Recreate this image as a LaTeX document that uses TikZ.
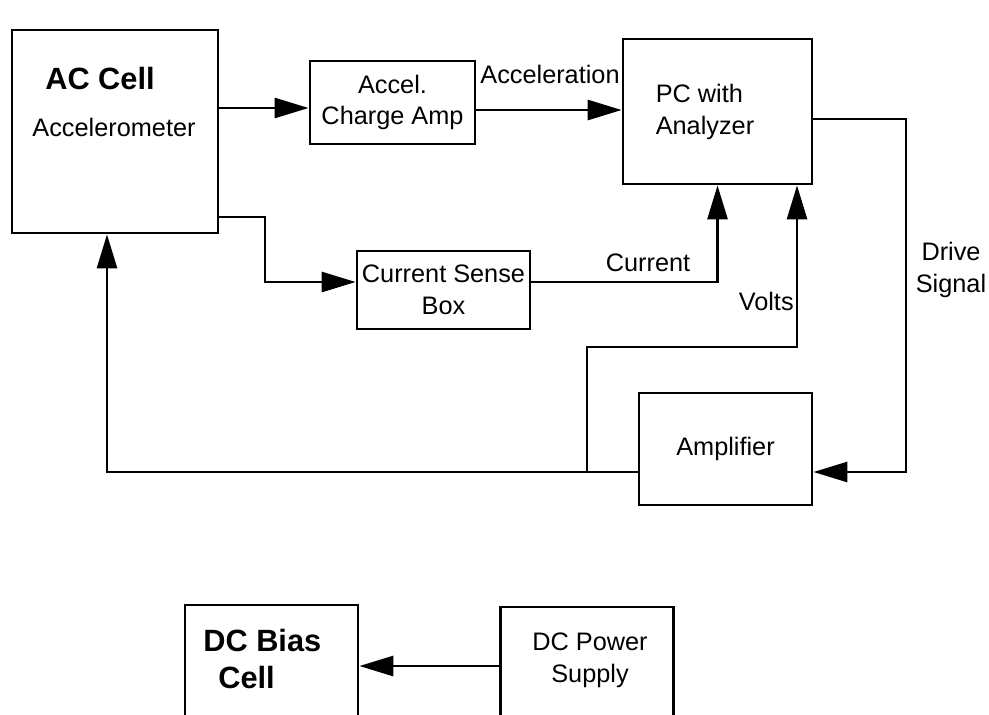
\documentclass[tikz,border=0pt]{standalone}
\usepackage{fontspec}
\setmainfont{Liberation Sans}
\usepackage{tikz}
\usetikzlibrary{arrows.meta}

\begin{document}
\begin{tikzpicture}[
  x = 0.02cm, y = -0.02cm,
  box/.style  = {rectangle, draw, line width=1.6pt, inner sep=0pt,
                 font=\fontsize{14.4}{18}\selectfont, align=center},
  txt/.style  = {inner sep=0pt, font=\fontsize{14.4}{18}\selectfont},
  head/.style = {inner sep=0pt, font=\fontsize{17.5}{21}\selectfont\bfseries},
  arr/.style  = {-{Triangle[length=0.68cm, width=0.40cm]}, line width=1.6pt},
]
  \useasboundingbox (0,0) rectangle (989,714);
  \clip (0,0) rectangle (989,714);

  % blocks
  \node[box, minimum width=4.12cm, minimum height=4.06cm] (ac)    at (115,131.5) {};
  \node[box, minimum width=3.30cm, minimum height=1.66cm] (accel) at (392.5,102.5)
    {Accel.\\Charge Amp};
  \node[box, minimum width=3.78cm, minimum height=2.90cm] (pc)    at (717.5,111.5) {};
  \node[box, minimum width=3.46cm, minimum height=1.56cm] (csb)   at (443.5,290)
    {Current Sense\\Box};
  \node[box, minimum width=3.46cm, minimum height=2.24cm] (amp)   at (725.5,449)
    {Amplifier};
  \node[box, minimum width=3.46cm, minimum height=2.70cm] (dcb)   at (271.5,672.5) {};
  \node[box, minimum width=3.46cm, minimum height=2.66cm] (dcp)   at (587,673.5) {};

  % texts inside the big blocks
  \node[head] (acT)  at (100,79)  {AC Cell};
  \node[txt]  (acS)  at (114,127) {Accelerometer};
  \node[txt, align=left] (pcT) at (705,112) {PC with\\Analyzer};
  \node[head, align=left, anchor=west] (dcbT) at (203,659) {DC Bias\\\hspace{0.3cm}Cell};
  \node[txt, align=center] (dcpT) at (590,660) {DC Power\\Supply};

  % signal paths
  \draw[arr] (ac.east |- 0,108) -- (accel.west |- 0,108);
  \draw[arr] (accel.east |- 0,110) -- (pc.west |- 0,110);
  \draw[arr] (ac.east |- 0,217) -- (265,217) |- (csb.west |- 0,282);
  \draw[arr] (csb.east |- 0,282) -| (pc.south);
  \coordinate (jn) at (587,472);
  \draw[arr] (jn) |- (797,347) -- (pc.south -| 797,0);
  \draw[arr] (pc.east |- 0,119) -| (906,472) -- (amp.east |- 0,472);
  \draw[arr] (amp.west |- 0,472) -| (ac.south -| 107,0);
  \draw[arr] (dcp.west |- 0,666) -- (dcb.east |- 0,666);

  % labels on the wires
  \node[txt] (lAcc)  at (550,74)  {Acceleration};
  \node[txt] (lCur)  at (648,263) {Current};
  \node[txt, anchor=east] (lVolt) at (794,301) {Volts};
  \node[txt, align=center] (lDrv) at (951,270) {Drive\\Signal};
\end{tikzpicture}
\end{document}
